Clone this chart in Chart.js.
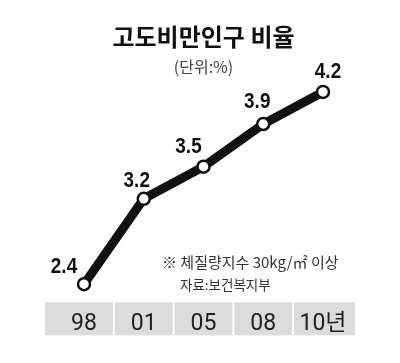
<!DOCTYPE html>
<html>
<head>
<meta charset="utf-8">
<script src="https://cdn.jsdelivr.net/npm/chart.js@4.4.1/dist/chart.umd.min.js"></script>
<style>
  html, body { margin: 0; padding: 0; background: #fff; }
  #wrap { width: 400px; height: 363px; }
</style>
</head>
<body>
<div id="wrap"><canvas id="obesityChart" width="400" height="363"></canvas></div>
<script>
const years = ["98", "01", "05", "08", "10년"];
const obesityRate = [2.4, 3.2, 3.5, 3.9, 4.2];

const tickFont = "Roboto, 'Noto Sans CJK KR', sans-serif";
const korean = "'Noto Sans CJK KR', 'Noto Sans', sans-serif";

// gray cells behind the year labels
const yearCells = {
  id: "yearCells",
  beforeDraw(chart) {
    const { ctx, scales: { x } } = chart;
    const n = years.length;
    const top = x.top + 6;
    const h = 33;
    ctx.save();
    ctx.fillStyle = "#dcdcdc";
    for (let i = 0; i < n; i++) {
      const c = x.getPixelForValue(i);
      const left = i === 0 ? c - 39 : (c + x.getPixelForValue(i - 1)) / 2 + 1;
      const right = i === n - 1 ? c + 32 : (c + x.getPixelForValue(i + 1)) / 2 - 1;
      ctx.fillRect(left, top, right - left, h);
    }
    ctx.restore();
  }
};

// value labels + footnotes
const valueLabels = {
  id: "valueLabels",
  afterDatasetsDraw(chart, args, opts) {
    const { ctx } = chart;
    const meta = chart.getDatasetMeta(0);
    ctx.save();
    ctx.fillStyle = "#111";
    ctx.font = "bold 22px 'Liberation Sans', sans-serif";
    ctx.textAlign = "center";
    ctx.textBaseline = "middle";
    meta.data.forEach((pt, i) => {
      const [dx, dy] = opts.offsets[i];
      // squeeze horizontally to get the condensed look
      ctx.save();
      ctx.translate(pt.x + dx, pt.y + dy);
      ctx.scale(0.86, 1);
      ctx.fillText(obesityRate[i].toFixed(1), 0, 0);
      ctx.restore();
    });

    ctx.textAlign = "left";
    ctx.fillStyle = "#333";
    ctx.font = "15px " + korean;
    ctx.fillText("※ 체질량지수 30kg/㎡ 이상", 162, 262);
    ctx.font = "13.5px " + korean;
    ctx.fillText("자료:보건복지부", 180, 285);
    ctx.restore();
  }
};

new Chart(document.getElementById("obesityChart"), {
  type: "line",
  data: {
    labels: years,
    datasets: [{
      data: obesityRate,
      borderColor: "#111",
      borderWidth: 9,
      tension: 0,
      pointRadius: 6,
      pointBorderWidth: 2.5,
      pointBackgroundColor: "#fff",
      pointBorderColor: "#111",
      clip: false
    }]
  },
  options: {
    responsive: false,
    animation: false,
    events: [],
    layout: { padding: { left: 84, right: 77, top: 0, bottom: 11 } },
    scales: {
      x: {
        offset: false,
        grid: { display: false, drawTicks: false },
        border: { display: false },
        ticks: {
          padding: 14,
          color: "#222",
          font: { family: tickFont, size: 23 }
        }
      },
      y: {
        display: false,
        min: 2.286,
        max: 4.34
      }
    },
    plugins: {
      legend: { display: false },
      tooltip: { enabled: false },
      title: {
        display: true,
        text: "고도비만인구 비율",
        color: "#111",
        font: { family: korean, size: 24, weight: "bold" },
        padding: { top: 22, bottom: 0 }
      },
      subtitle: {
        display: true,
        text: "(단위:%)",
        color: "#444",
        font: { family: korean, size: 16 },
        padding: { top: 7, bottom: 0 }
      },
      valueLabels: {
        offsets: [[-20, -17], [-7, -18], [-15, -20], [-6, -22], [5, -20]]
      }
    }
  },
  plugins: [yearCells, valueLabels]
});
</script>
</body>
</html>
